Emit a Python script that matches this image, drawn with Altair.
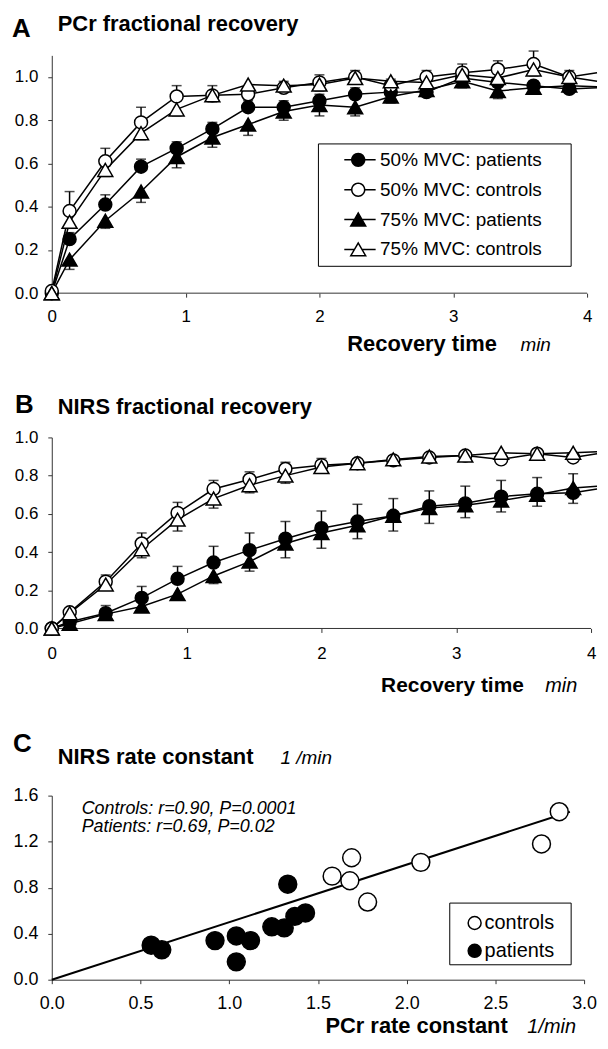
import altair as alt
import pandas as pd

FONT = "Liberation Sans"

# ---------------- shared ----------------
time_min = [0, 0.133, 0.4, 0.667, 0.933, 1.2, 1.467, 1.733, 2.0, 2.267, 2.533,
            2.8, 3.067, 3.333, 3.6, 3.867]
series_names = ["50% MVC: patients", "50% MVC: controls",
                "75% MVC: patients", "75% MVC: controls"]
x_ticks = [0, 1, 2, 3, 4]
frac_y_ticks = [0.0, 0.2, 0.4, 0.6, 0.8, 1.0]

# ---------------- panel A: PCr fractional recovery ----------------
# last value of each series = where its line leaves the cropped right edge
pcr_edge_time = 4.074
pcr_50_patients = [0.0, 0.25, 0.41, 0.585, 0.67, 0.76, 0.86, 0.86, 0.89, 0.92, 0.93,
                   0.93, 0.995, 0.975, 0.96, 0.945, 0.95]
pcr_50_controls = [0.01, 0.38, 0.61, 0.79, 0.91, 0.915, 0.92, 0.95, 0.975, 1.0, 0.96,
                   1.0, 1.02, 1.035, 1.06, 1.0, 1.02]
pcr_75_patients = [0.0, 0.155, 0.335, 0.47, 0.63, 0.72, 0.78, 0.84, 0.87, 0.86, 0.91,
                   0.94, 0.98, 0.935, 0.95, 0.96, 0.955]
pcr_75_controls = [0.0, 0.33, 0.57, 0.74, 0.85, 0.915, 0.965, 0.96, 0.965, 0.995, 0.98,
                   0.975, 1.01, 0.995, 1.035, 1.0, 0.98]
pcr_50_patients_sem = [0, 0.03, 0.045, 0.035, 0.03, 0.03, 0.03, 0.03, 0.03, 0.03, 0.03,
                       0.02, 0.02, 0.02, 0.02, 0.02]
pcr_50_controls_sem = [0, 0.09, 0.06, 0.07, 0.05, 0.045, 0.04, 0.03, 0.035, 0.03, 0.03,
                       0.03, 0.04, 0.04, 0.06, 0.03]
pcr_75_patients_sem = [0, 0.045, 0.035, 0.05, 0.05, 0.045, 0.05, 0.04, 0.05, 0.04, 0.03,
                       0.03, 0.03, 0.035, 0.02, 0.02]
pcr_75_controls_sem = [0, 0.03, 0.03, 0.03, 0.03, 0.03, 0.02, 0.03, 0.03, 0.02, 0.02,
                       0.02, 0.02, 0.02, 0.03, 0.02]

# ---------------- panel B: NIRS fractional recovery ----------------
nirs_edge_time = 4.044
nirs_50_patients = [0.0, 0.035, 0.08, 0.16, 0.26, 0.345, 0.41, 0.47, 0.525, 0.56, 0.59,
                    0.64, 0.655, 0.69, 0.705, 0.71, 0.73]
nirs_50_controls = [0.0, 0.085, 0.245, 0.445, 0.605, 0.73, 0.78, 0.835, 0.855, 0.865, 0.88,
                    0.895, 0.905, 0.885, 0.915, 0.895, 0.915]
nirs_75_patients = [0.0, 0.025, 0.075, 0.115, 0.18, 0.275, 0.35, 0.445, 0.50, 0.54, 0.59,
                    0.63, 0.645, 0.67, 0.70, 0.735, 0.745]
nirs_75_controls = [0.0, 0.08, 0.23, 0.415, 0.57, 0.68, 0.75, 0.80, 0.845, 0.865, 0.885,
                    0.90, 0.905, 0.92, 0.915, 0.92, 0.925]
nirs_50_patients_sem = [0, 0.01, 0.04, 0.06, 0.065, 0.085, 0.09, 0.09, 0.09, 0.09, 0.09,
                        0.08, 0.09, 0.085, 0.085, 0.10]
nirs_50_controls_sem = [0, 0.01, 0.035, 0.055, 0.055, 0.045, 0.04, 0.035, 0.035, 0.02, 0.02,
                        0.015, 0.015, 0.02, 0.015, 0.02]
nirs_75_patients_sem = [0, 0.01, 0.03, 0.025, 0.03, 0.04, 0.05, 0.075, 0.08, 0.07, 0.08,
                        0.08, 0.065, 0.06, 0.06, 0.08]
nirs_75_controls_sem = [0, 0.01, 0.02, 0.045, 0.06, 0.05, 0.04, 0.04, 0.02, 0.02, 0.02,
                        0.015, 0.015, 0.015, 0.015, 0.015]

# ---------------- panel C: rate constants ----------------
group_names = ["controls", "patients"]
controls_pcr_k = [1.58, 1.69, 1.68, 1.78, 2.08, 2.76, 2.86]
controls_nirs_k = [0.90, 1.06, 0.86, 0.675, 1.02, 1.18, 1.46]
patients_pcr_k = [0.56, 0.62, 0.92, 1.04, 1.04, 1.12, 1.24, 1.31, 1.33, 1.37, 1.43]
patients_nirs_k = [0.30, 0.26, 0.34, 0.38, 0.155, 0.34, 0.46, 0.45, 0.83, 0.55, 0.58]
fit_x = [0.0, 2.92]
fit_y = [0.0, 1.46]
c_x_ticks = [0.0, 0.5, 1.0, 1.5, 2.0, 2.5, 3.0]
c_y_ticks = [0.0, 0.4, 0.8, 1.2, 1.6]

# ---------------- texts ----------------
txt_A, txt_B, txt_C = "A", "B", "C"
title_A = "PCr fractional recovery"
title_B = "NIRS fractional recovery"
title_C = "NIRS rate constant"
unit_C = "1 /min"
xtitle_AB = "Recovery time"
xunit_AB = "min"
xtitle_C = "PCr rate constant"
xunit_C = "1/min"
stat_controls = "Controls: r=0.90, P=0.0001"
stat_patients = "Patients: r=0.69, P=0.02"

# ---------------- styles ----------------
STYLE = {
    "50% MVC: patients": dict(shape="circle", fill="black", up=1, size=169),
    "50% MVC: controls": dict(shape="circle", fill="white", up=1, size=169),
    "75% MVC: patients": dict(shape="triangle-up", fill="black", up=-1, size=225),
    "75% MVC: controls": dict(shape="triangle-up", fill="white", up=-1, size=225),
}
# legend glyphs: line segment + marker, drawn as filled outlines (unit = 14 px)
OUT_C = "M0.518,0A0.518,0.518,0,1,1,-0.518,0A0.518,0.518,0,1,1,0.518,0Z"
IN_C = "M0.41,0A0.41,0.41,0,1,0,-0.41,0A0.41,0.41,0,1,0,0.41,0Z"
OUT_T = "M0,-0.571L0.629,0.518L-0.629,0.518Z"
IN_T = "M0,-0.357L-0.443,0.411L0.443,0.411Z"
FULL_LINE = "M-1.25,-0.054H1.25V0.054H-1.25Z"


def split_line(g):
    return ("M-1.25,-0.054H-%sV0.054H-1.25Z M%s,-0.054H1.25V0.054H%sZ" % (g, g, g))


LEG_PATHS = [FULL_LINE + " " + OUT_C,
             split_line("0.45") + " " + OUT_C + " " + IN_C,
             FULL_LINE + " " + OUT_T,
             split_line("0.27") + " " + OUT_T + " " + IN_T]
AXIS_GREY = "#333"
LEFT = -44  # common left extent of every panel


def long_frame(values, sems, edge_time):
    times = time_min + [edge_time]
    rows = []
    for name, vals, errs in zip(series_names, values, sems):
        for i, (t, v) in enumerate(zip(times, vals)):
            marker = i < len(errs)
            e = errs[i] if marker else 0.0
            rows.append(dict(series=name, t=t, v=v, sem=e, marker=marker,
                             cap=v + STYLE[name]["up"] * e))
    return pd.DataFrame(rows)


def text_layer(txt, x, y, size, weight="normal", style="normal"):
    return alt.Chart(pd.DataFrame({"label": [txt]})).mark_text(
        font=FONT, fontSize=size, fontWeight=weight, fontStyle=style,
        align="left", baseline="alphabetic", color="black"
    ).encode(text="label:N", x=alt.value(x), y=alt.value(y))


def spacer(x1, x2, y):
    return alt.Chart(pd.DataFrame({"k": [0]})).mark_rule(opacity=0).encode(
        x=alt.value(x1), x2=alt.value(x2), y=alt.value(y))


def frame(x1, x2, y1, y2):
    return alt.Chart(pd.DataFrame({"k": [0]})).mark_rect(
        fill="white", stroke="black", strokeWidth=1).encode(
        x=alt.value(x1), x2=alt.value(x2), y=alt.value(y1), y2=alt.value(y2))


def recovery_panel(df, ymax, xmax, width, height, xlab_pad, lab_size, legend_spec,
                   letter, title, letter_y, title_y, xt, top, bottom):
    xs = alt.X("t:Q", scale=alt.Scale(domain=[0, xmax], nice=False),
               axis=alt.Axis(values=x_ticks, tickCount=len(x_ticks), format="d",
                             title=None, domain=False, labelFlush=False,
                             labelOverlap=False, labelFontSize=lab_size,
                             labelPadding=xlab_pad))
    ys = alt.Y("v:Q", scale=alt.Scale(domain=[0, ymax], nice=False),
               axis=alt.Axis(values=frac_y_ticks, tickCount=len(frac_y_ticks),
                             format=".1f", title=None, labelOverlap=False,
                             labelFontSize=lab_size, labelPadding=10))
    base = alt.Chart(df)
    shown = base.transform_filter("datum.marker")
    lines = base.mark_line(color="black", strokeWidth=1.5).encode(
        x=xs, y=ys, detail="series:N", order="t:Q")
    x_axis_line = alt.Chart(pd.DataFrame({"k": [0]})).mark_rule(
        color=AXIS_GREY, strokeWidth=1).encode(
        x=alt.datum(0), x2=alt.datum(4), y=alt.value(height))
    stems = shown.transform_filter("datum.sem > 0").mark_rule(
        color="black", strokeWidth=1.5).encode(x="t:Q", y="v:Q", y2="cap:Q")
    caps = shown.transform_filter("datum.sem > 0").mark_tick(
        orient="horizontal", size=10, thickness=1.5, color="black").encode(
        x="t:Q", y="cap:Q")
    pts = []
    for name in series_names:
        st = STYLE[name]
        pts.append(shown.transform_filter(alt.datum.series == name).mark_point(
            shape=st["shape"], size=st["size"], fill=st["fill"], fillOpacity=1,
            stroke="black", strokeWidth=1.5, opacity=1).encode(x="t:Q", y="v:Q"))
    layers = [lines, x_axis_line, stems, caps, *pts]
    if legend_spec is not None:
        lx, ly, box = legend_spec
        layers.append(frame(*box))
        leg = alt.Legend(title=None, orient="none", legendX=lx, legendY=ly,
                         symbolSize=784, symbolStrokeWidth=0, labelFont=FONT,
                         labelFontSize=19, labelColor="black", padding=0,
                         rowPadding=0, clipHeight=30, symbolOffset=0, labelOffset=8,
                         labelLimit=400)
        legend_layer = base.transform_filter("false").mark_point(
            filled=True, color="black", strokeWidth=0, opacity=1).encode(
            x="t:Q", y="v:Q",
            shape=alt.Shape("series:N",
                            scale=alt.Scale(domain=series_names, range=LEG_PATHS),
                            legend=leg))
        layers.append(legend_layer)
    layers += [
        text_layer(letter[0], letter[1], letter_y, 26, weight="bold"),
        text_layer(title[0], title[1], title_y, 22, weight="bold"),
        text_layer(xtitle_AB, xt[0], xt[2], xt[3], weight="bold"),
        text_layer(xunit_AB, xt[1], xt[2], xt[4], style="italic"),
        spacer(LEFT, 0, -top),
        spacer(LEFT, 0, height + bottom),
    ]
    return alt.layer(*layers).properties(width=width, height=height)


df_a = long_frame([pcr_50_patients, pcr_50_controls, pcr_75_patients, pcr_75_controls],
                  [pcr_50_patients_sem, pcr_50_controls_sem, pcr_75_patients_sem,
                   pcr_75_controls_sem], pcr_edge_time)
df_b = long_frame([nirs_50_patients, nirs_50_controls, nirs_75_patients, nirs_75_controls],
                  [nirs_50_patients_sem, nirs_50_controls_sem, nirs_75_patients_sem,
                   nirs_75_controls_sem], nirs_edge_time)

panel_a = recovery_panel(df_a, 1.1, pcr_edge_time, 548, 239, 11, 17,
                         (294, 90, (268, 522, 89, 212)),
                         (txt_A, -40), (title_A, 6), -18, -25, (297, 471, 297, 22, 19),
                         45, 65)
panel_b = recovery_panel(df_b, 1.0, nirs_edge_time, 548, 192, 13, 17, None,
                         (txt_B, -37), (title_B, 6), -25, -24, (331, 496, 256, 21, 20),
                         80, 70)

# ---------------- panel C ----------------
df_c = pd.DataFrame({
    "pcr": controls_pcr_k + patients_pcr_k,
    "nirs": controls_nirs_k + patients_nirs_k,
    "group": ["controls"] * len(controls_pcr_k) + ["patients"] * len(patients_pcr_k),
})
df_fit = pd.DataFrame({"pcr": fit_x, "nirs": fit_y})
xc = alt.X("pcr:Q", scale=alt.Scale(domain=[0, 3.0], nice=False),
           axis=alt.Axis(values=c_x_ticks, tickCount=len(c_x_ticks), format=".1f",
                         title=None, labelFlush=False, labelOverlap=False,
                         labelFontSize=18, labelPadding=11))
yc = alt.Y("nirs:Q", scale=alt.Scale(domain=[0, 1.6], nice=False),
           axis=alt.Axis(values=c_y_ticks, tickCount=len(c_y_ticks), format=".1f",
                         title=None, labelOverlap=False, labelFontSize=18,
                         labelPadding=10))
fit_line = alt.Chart(df_fit).mark_line(color="black", strokeWidth=2).encode(x=xc, y=yc)
c_pts = []
for g, fc in zip(group_names, ["white", "black"]):
    c_pts.append(alt.Chart(df_c).transform_filter(alt.datum.group == g).mark_point(
        shape="circle", size=324, fill=fc, fillOpacity=1, stroke="black",
        strokeWidth=1.5, opacity=1).encode(x="pcr:Q", y="nirs:Q"))
leg_c = alt.Legend(title=None, orient="none", legendX=415, legendY=114,
                   symbolType="circle", symbolSize=169, symbolStrokeWidth=1.5,
                   symbolStrokeColor="black", labelFont=FONT, labelFontSize=20,
                   labelColor="black", padding=0, rowPadding=0, clipHeight=28,
                   symbolOffset=0, labelOffset=0)
c_leg_layer = alt.Chart(df_c).transform_filter("false").mark_point(
    filled=True, shape="circle", stroke="black", strokeWidth=1.5, opacity=1).encode(
    x="pcr:Q", y="nirs:Q",
    fill=alt.Fill("group:N", scale=alt.Scale(domain=group_names, range=["white", "black"]),
                  legend=leg_c))
c_texts = [
    text_layer(txt_C, -39, -44, 26, weight="bold"),
    text_layer(title_C, 6, -32, 22, weight="bold"),
    text_layer(unit_C, 230, -32, 19, style="italic"),
    text_layer(stat_controls, 30, 18, 18, style="italic"),
    text_layer(stat_patients, 30, 37, 18, style="italic"),
    text_layer(xtitle_C, 275, 239, 22, weight="bold"),
    text_layer(xunit_C, 478, 239, 20, style="italic"),
]
panel_c = alt.layer(fit_line, *c_pts, frame(400, 522, 108, 170), c_leg_layer, *c_texts,
                    spacer(LEFT, 0, -98), spacer(LEFT, 0, 185 + 57)
                    ).properties(width=535, height=185)

chart = alt.concat(panel_a, panel_b, panel_c, columns=1, spacing=0
                   ).resolve_scale(shape="independent", fill="independent"
                   ).resolve_legend(shape="independent", fill="independent"
                   ).properties(padding=0
                   ).configure_view(stroke=None).configure_axis(
    labelFont=FONT, labelColor="black", domainColor=AXIS_GREY, tickColor=AXIS_GREY,
    grid=False, tickSize=4, domainWidth=1, tickWidth=1, labelOverlap=False)

chart.save("out.html", embed_options={"renderer": "svg", "actions": False})
